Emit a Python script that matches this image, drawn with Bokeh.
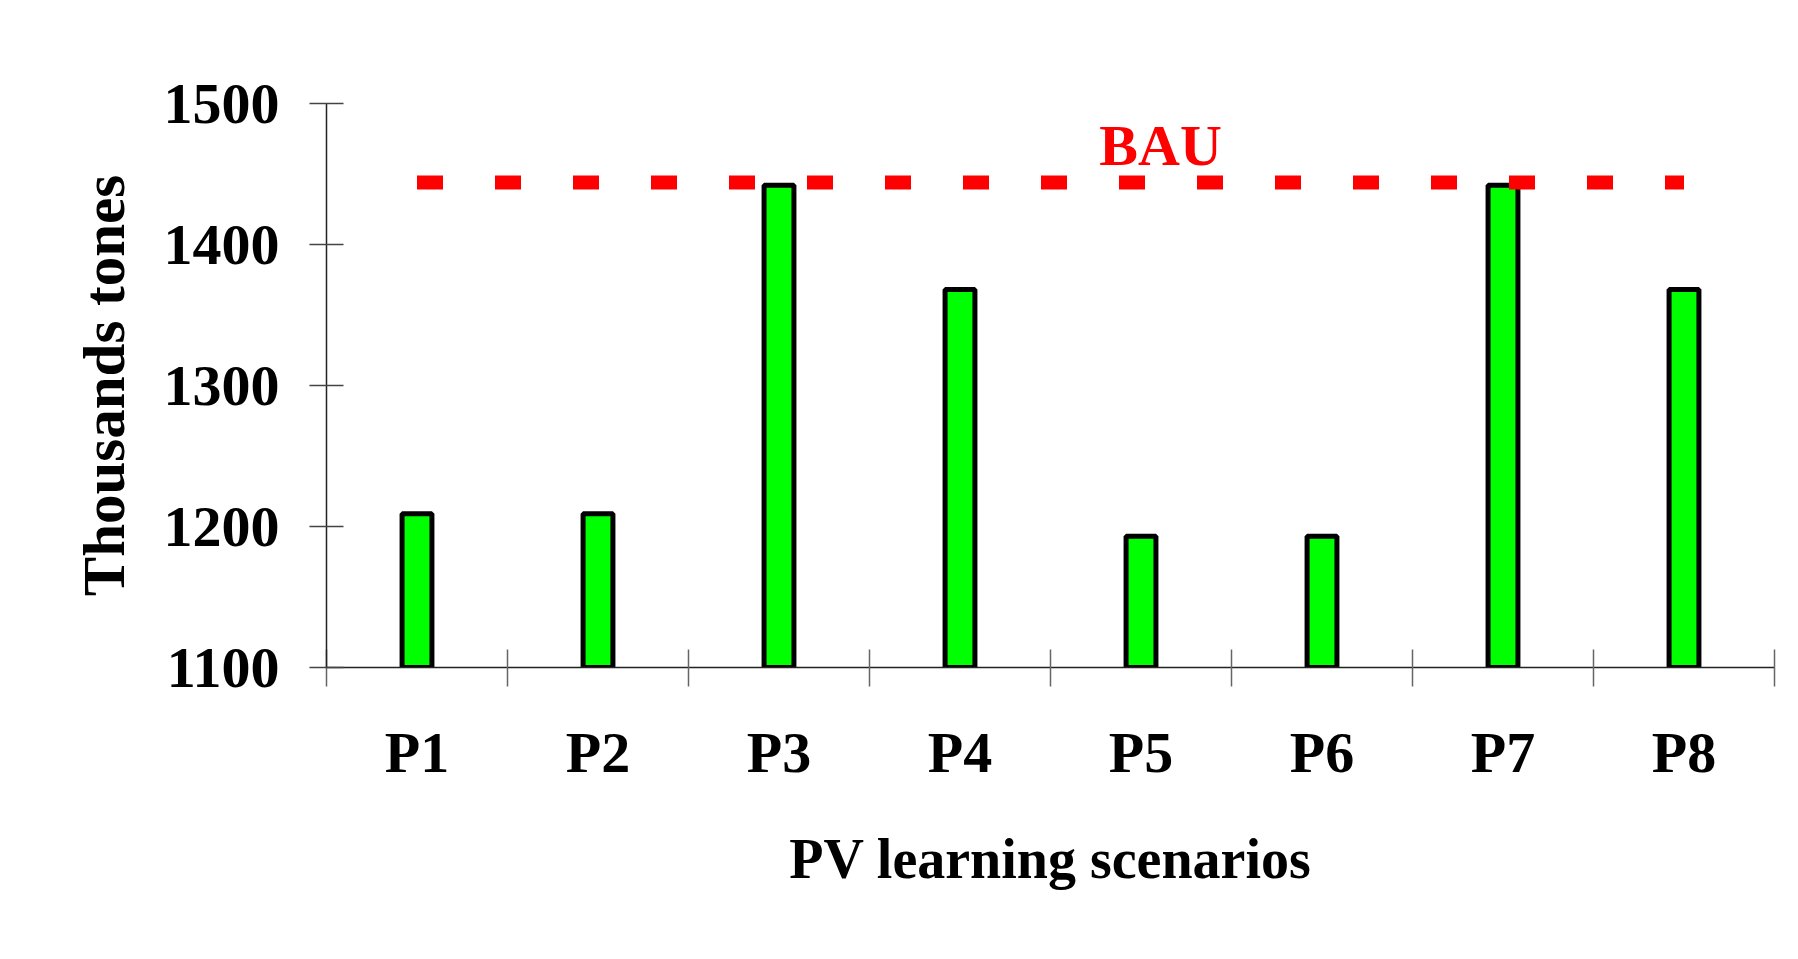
from bokeh.plotting import figure
from bokeh.models import ColumnDataSource, FixedTicker, Label, Range1d
from bokeh.embed import file_html
from bokeh.resources import INLINE

categories = ["P1", "P2", "P3", "P4", "P5", "P6", "P7", "P8"]
values = [1209, 1209, 1442, 1368, 1193, 1193, 1442, 1368]
bau_value = 1444
bau_label = "BAU"
y_ticks = [1100, 1200, 1300, 1400, 1500]
x_title = "PV learning scenarios"
y_title = "Thousands tones"

FONT = "Liberation Serif"

n = len(categories)
centers = [i + 0.5 for i in range(n)]
src = ColumnDataSource(dict(x=centers, top=values, cat=categories))

p = figure(width=1782, height=943, output_backend="svg", toolbar_location=None,
           x_range=Range1d(0, n), y_range=Range1d(y_ticks[0], y_ticks[-1]),
           min_border_left=326, min_border_right=8, min_border_top=103,
           min_border_bottom=276)
p.outline_line_color = None
p.grid.visible = False
p.background_fill_color = "white"
p.border_fill_color = "white"

p.vbar(x="x", top="top", bottom=y_ticks[0], width=0.165, source=src,
       fill_color="#00FF00", line_color="black", line_width=5)

p.line(x=[centers[0], centers[-1]], y=[bau_value, bau_value], line_color="#FF0000",
       line_width=14, line_dash="26 52", line_cap="butt")

p.add_layout(Label(x=4.608, y=1470, text=bau_label, text_align="center",
                   text_baseline="alphabetic", text_color="#FF0000",
                   text_font=FONT, text_font_style="bold", text_font_size="58px"))

# x axis: ticks at category boundaries, labels at centres
xa = p.xaxis[0]
xa.ticker = FixedTicker(ticks=centers, minor_ticks=list(range(n + 1)))
xa.major_label_overrides = {c: cat for c, cat in zip(centers, categories)}
xa.major_tick_line_color = None
xa.minor_tick_in = 18
xa.minor_tick_out = 19
xa.minor_tick_line_color = "#666666"
xa.minor_tick_line_width = 1.5
xa.axis_line_color = "#222222"
xa.axis_line_width = 1.5
xa.major_label_standoff = 33
xa.major_label_text_font = FONT
xa.major_label_text_font_style = "bold"
xa.major_label_text_font_size = "58px"
xa.major_label_text_color = "black"
xa.axis_label = x_title
xa.axis_label_text_font = FONT
xa.axis_label_text_font_style = "bold"
xa.axis_label_text_font_size = "56px"
xa.axis_label_text_color = "black"
xa.axis_label_standoff = 40

ya = p.yaxis[0]
ya.ticker = FixedTicker(ticks=y_ticks, minor_ticks=[])
ya.major_tick_in = 17
ya.major_tick_out = 17
ya.major_tick_line_color = "#444444"
ya.major_tick_line_width = 1.5
ya.minor_tick_line_color = None
ya.axis_line_color = "#222222"
ya.axis_line_width = 1.5
ya.major_label_standoff = 30
ya.major_label_text_font = FONT
ya.major_label_text_font_style = "bold"
ya.major_label_text_font_size = "58px"
ya.major_label_text_color = "black"
ya.axis_label = y_title
ya.axis_label_text_font = FONT
ya.axis_label_text_font_style = "bold"
ya.axis_label_text_font_size = "59px"
ya.axis_label_text_color = "black"
ya.axis_label_standoff = 24

open("out.html", "w").write(file_html(p, INLINE))
